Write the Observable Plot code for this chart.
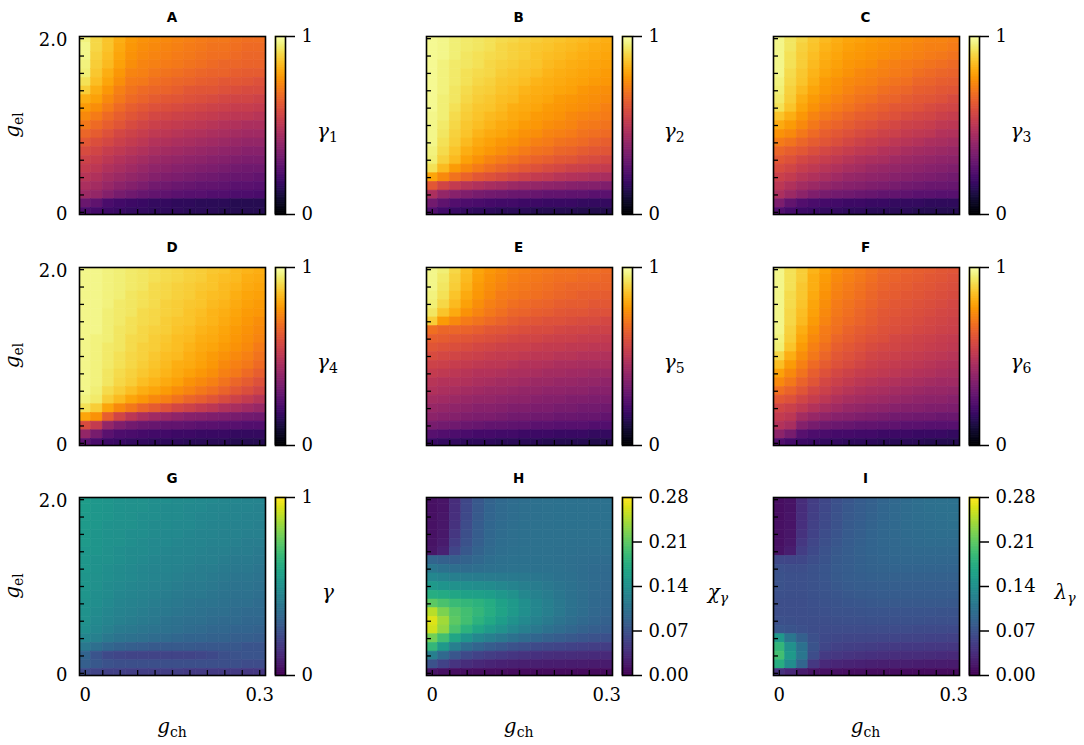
<!DOCTYPE html>
<html><head><meta charset="utf-8">
<script src="https://cdn.jsdelivr.net/npm/d3@7"></script>
<script src="https://cdn.jsdelivr.net/npm/@observablehq/plot@0.6"></script>
<style>
body{margin:0;background:#fff;}
#fig{position:relative;width:1084px;height:745px;overflow:hidden;background:#fff;}
#fig svg{position:absolute;}
#fig svg.plotpanel text{font-family:"DejaVu Serif",serif;}
</style></head><body><div id="fig"></div>
<script>
// grid coordinates
const gCh = [0,0.02,0.04,0.06,0.08,0.10,0.12,0.14,0.16,0.18,0.20,0.22,0.24,0.26,0.28,0.30];
const gEl = [2.0,1.9,1.8,1.7,1.6,1.5,1.4,1.3,1.2,1.1,1.0,0.9,0.8,0.7,0.6,0.5,0.4,0.3,0.2,0.1,0.0]; // rows top -> bottom
const xTickValues = [0,0.03,0.06,0.09,0.12,0.15,0.18,0.21,0.24,0.27,0.30];
const yTickValues = [0,0.2,0.4,0.6,0.8,1.0,1.2,1.4,1.6,1.8,2.0];
const cbTicksGamma = [0,1];
const cbTicksSus = [0,0.07,0.14,0.21,0.28];

// values in hundredths (gamma panels)
const gamma1 = [
[96,90,86,82,78,76,75,74,73,72,71,70,70,69,68,68],
[97,90,86,81,77,75,74,73,72,71,70,69,69,68,67,67],
[97,89,85,80,76,74,73,72,71,70,69,68,68,67,66,66],
[96,88,84,79,75,73,72,71,70,69,68,67,66,66,65,65],
[95,87,82,77,73,72,70,69,68,67,66,65,65,64,63,63],
[92,85,80,75,71,70,68,67,66,65,64,63,62,62,61,60],
[88,82,77,72,69,67,66,65,64,62,61,61,60,59,58,58],
[82,79,74,70,67,65,63,62,61,60,59,58,57,56,56,55],
[78,75,71,67,64,62,60,59,58,57,56,55,54,53,53,52],
[74,71,67,64,61,59,57,56,55,54,53,52,51,50,50,49],
[70,67,64,61,58,56,54,53,52,51,50,49,48,47,46,46],
[66,63,60,57,55,53,51,50,49,48,47,46,45,44,43,43],
[62,59,57,54,52,50,48,47,46,45,44,43,42,41,40,40],
[58,56,53,51,49,47,45,44,43,42,41,40,39,38,37,37],
[55,53,50,48,46,44,42,41,40,39,38,37,36,35,34,34],
[52,50,47,45,43,41,39,38,37,36,35,34,33,32,31,31],
[49,47,44,42,40,38,36,35,34,33,32,31,30,29,29,28],
[46,44,41,38,36,34,32,31,30,29,28,28,27,26,26,25],
[42,40,36,33,31,29,28,27,26,25,25,24,24,23,23,22],
[30,27,22,20,19,18,17,17,16,16,15,15,15,14,14,14],
[22,21,19,18,17,17,16,16,16,15,15,15,14,14,14,14]];

const gamma2 = [
[98,97,95,94,93,92,91,90,89,88,87,86,85,84,83,82],
[98,97,95,94,93,92,90,89,88,87,86,85,84,83,82,81],
[98,97,95,93,92,91,90,89,88,86,85,84,83,82,81,80],
[98,96,94,93,92,90,89,88,87,86,84,83,82,81,80,79],
[98,96,94,92,91,90,88,87,86,85,83,82,81,80,79,78],
[98,96,94,92,90,89,87,86,85,83,82,81,80,79,78,77],
[98,96,93,91,89,88,86,85,83,82,81,80,79,77,76,75],
[98,95,93,90,88,87,85,84,82,81,80,78,77,76,75,74],
[98,95,92,89,87,86,84,82,81,80,78,77,76,75,74,72],
[97,95,91,88,86,84,83,81,80,78,77,76,74,73,72,71],
[97,94,90,87,85,83,81,80,78,77,75,74,73,71,70,69],
[97,93,89,86,83,81,80,78,76,75,73,72,71,69,68,67],
[97,92,88,84,81,79,77,76,74,72,71,69,68,67,65,64],
[96,91,86,82,79,77,75,73,71,69,68,66,65,63,62,61],
[95,89,84,79,76,73,71,69,67,65,64,62,61,59,58,57],
[92,84,78,74,71,68,66,64,62,60,58,57,55,54,53,52],
[80,74,69,65,62,60,58,56,54,52,51,49,48,47,46,45],
[62,56,52,49,47,45,44,42,41,40,39,38,37,36,36,35],
[46,40,37,35,33,32,31,30,30,29,28,28,27,27,26,26],
[32,27,24,23,22,21,20,20,19,19,18,18,18,17,17,17],
[24,20,18,17,16,16,15,15,15,14,14,14,14,13,13,13]];

const gamma3 = [
[97,93,90,87,84,82,80,79,78,77,76,75,74,73,73,72],
[97,93,89,86,83,81,79,78,77,76,75,74,73,72,72,71],
[97,92,88,85,82,80,78,77,76,75,74,73,72,71,70,69],
[97,92,88,84,81,79,77,76,75,73,72,71,70,69,68,67],
[97,91,87,83,80,78,76,74,73,72,71,70,68,67,66,65],
[96,90,86,82,78,76,74,73,72,70,69,68,66,65,64,63],
[95,89,84,80,77,75,73,71,70,68,67,66,64,63,62,61],
[94,88,82,78,75,73,71,69,68,66,65,63,62,61,60,58],
[92,86,80,76,73,71,69,67,65,64,62,61,60,58,57,56],
[86,82,77,73,70,68,66,64,63,61,60,58,57,56,54,53],
[81,78,74,70,67,65,63,61,60,58,57,55,54,53,51,50],
[76,74,70,67,64,62,60,58,57,55,54,52,51,50,48,47],
[71,69,66,63,61,59,57,55,53,52,50,49,48,46,45,44],
[66,64,62,59,57,55,53,51,50,48,47,45,44,43,42,41],
[62,60,57,55,53,51,49,47,46,45,43,42,41,40,39,38],
[58,56,53,51,49,47,45,44,42,41,40,39,38,37,36,35],
[54,52,49,47,45,43,41,40,39,38,37,36,35,34,33,32],
[50,47,44,42,40,38,37,36,35,34,33,32,31,30,30,29],
[46,42,38,35,33,32,31,30,29,28,28,27,26,26,25,25],
[34,28,24,22,21,20,19,19,18,18,17,17,17,16,16,16],
[24,21,19,18,17,17,16,16,15,15,15,15,14,14,14,14]];

const gamma4 = [
[97,97,96,95,94,93,92,91,90,89,88,87,86,84,83,82],
[97,97,96,95,94,93,92,91,90,89,88,86,85,84,82,81],
[97,97,96,95,94,93,91,90,89,88,87,86,84,83,81,80],
[97,97,96,95,93,92,91,90,89,88,86,85,84,82,80,79],
[97,97,96,94,93,92,91,89,88,87,86,84,83,81,79,78],
[97,97,95,94,93,91,90,89,88,86,85,83,82,80,78,77],
[97,97,95,94,92,91,90,88,87,86,84,83,81,79,77,75],
[97,97,95,93,92,90,89,88,86,85,83,82,80,78,76,74],
[97,96,95,93,91,90,88,87,85,84,82,81,79,77,75,73],
[97,96,94,93,91,89,88,86,85,83,81,80,78,76,74,71],
[97,96,94,92,90,89,87,85,84,82,80,78,76,74,72,69],
[97,96,94,92,90,88,86,84,82,81,79,77,74,72,70,67],
[97,96,93,91,89,87,85,83,81,79,77,75,72,70,67,64],
[97,96,93,90,88,85,83,81,79,76,74,72,69,66,63,60],
[97,95,91,88,85,82,80,78,75,73,70,68,65,62,59,56],
[96,94,88,84,80,77,74,72,69,66,64,61,58,55,52,49],
[92,88,80,74,70,66,63,60,57,55,52,50,47,45,43,41],
[80,76,64,56,50,46,43,41,39,37,36,35,34,33,32,31],
[58,52,40,35,32,30,29,28,28,27,26,26,25,25,24,24],
[40,33,26,23,22,21,20,20,19,19,18,18,18,17,17,17],
[26,22,19,18,17,17,16,16,16,15,15,15,15,14,14,14]];

const gamma5 = [
[97,95,90,85,80,77,75,73,72,71,70,69,69,68,68,67],
[97,94,89,84,79,76,74,72,71,70,69,68,68,67,67,66],
[97,93,88,83,78,75,73,71,70,69,68,67,66,66,65,65],
[96,92,86,81,77,74,71,70,69,68,67,66,65,64,64,63],
[95,90,84,79,75,72,70,68,67,66,65,64,63,63,62,62],
[93,86,81,76,73,70,68,66,65,64,63,62,61,61,60,60],
[88,78,74,71,69,67,65,63,62,61,60,60,59,58,58,57],
[68,66,66,65,64,62,61,60,59,58,58,57,56,56,55,55],
[64,63,62,61,60,59,58,57,56,56,55,54,54,53,53,52],
[61,60,59,58,57,56,55,54,54,53,52,52,51,51,50,50],
[58,57,56,55,54,53,52,52,51,50,50,49,49,48,48,47],
[55,54,53,52,51,50,50,49,48,48,47,46,46,45,45,45],
[52,51,50,49,48,48,47,46,46,45,44,44,43,43,42,42],
[49,48,48,47,46,45,44,44,43,42,42,41,41,40,40,39],
[47,46,45,44,43,42,42,41,40,40,39,39,38,38,37,37],
[44,43,42,41,40,40,39,38,38,37,36,36,35,35,34,34],
[41,40,39,38,37,37,36,35,35,34,34,33,33,32,32,31],
[38,37,36,35,34,34,33,32,32,31,31,30,30,29,29,28],
[33,32,31,30,29,28,28,27,27,26,26,25,25,25,24,24],
[25,24,23,22,21,21,20,20,19,19,19,18,18,18,17,17],
[18,17,17,16,16,16,15,15,15,15,14,14,14,14,13,13]];

const gamma6 = [
[97,92,88,83,79,75,73,71,69,67,66,65,64,63,62,61],
[97,92,88,82,78,74,72,70,68,66,65,64,63,62,61,60],
[97,92,87,82,77,73,71,69,67,65,64,63,62,61,60,59],
[97,91,87,81,76,72,70,68,66,64,63,62,61,60,59,58],
[97,91,86,80,75,71,69,67,65,63,62,61,60,59,58,57],
[97,90,85,79,74,70,68,66,64,62,61,60,59,58,57,56],
[97,90,84,78,73,69,67,65,63,61,60,59,58,57,56,55],
[97,89,82,76,71,68,65,63,62,60,59,58,57,56,55,54],
[96,88,80,74,70,66,64,62,60,59,57,56,55,54,53,52],
[95,86,78,72,68,64,62,60,58,57,56,55,54,53,52,51],
[90,82,75,70,66,62,60,58,56,55,54,53,52,51,50,49],
[85,78,72,67,63,60,58,56,54,53,52,51,50,49,48,47],
[79,74,69,64,60,57,55,53,52,51,50,49,48,47,46,45],
[74,70,65,61,57,54,52,50,49,48,47,46,45,44,43,43],
[68,65,61,57,54,51,49,47,46,45,44,43,42,41,41,40],
[62,60,56,53,50,47,45,44,43,42,41,40,39,38,38,37],
[56,54,51,48,45,43,41,40,39,38,37,36,36,35,35,34],
[52,50,44,41,39,37,36,35,34,33,32,32,31,31,30,30],
[48,45,36,33,31,30,29,28,28,27,27,26,26,25,25,25],
[38,33,25,23,22,21,21,20,20,19,19,19,18,18,18,17],
[24,21,19,18,17,17,16,16,16,15,15,15,15,14,14,14]];

const gammaAll = [
[55,53,52,51,50,50,49,49,48,48,47,47,46,46,45,45],
[55,53,52,51,50,50,49,48,48,47,47,46,46,45,45,44],
[54,53,52,51,50,49,49,48,48,47,46,46,45,45,44,44],
[54,53,51,50,50,49,48,48,47,47,46,45,45,44,44,43],
[54,52,51,50,49,49,48,47,47,46,45,45,44,44,43,43],
[54,52,51,50,49,48,47,47,46,45,45,44,44,43,42,42],
[53,52,50,49,48,48,47,46,45,45,44,43,43,42,42,41],
[53,51,50,49,48,47,46,45,45,44,43,43,42,41,41,40],
[53,51,49,48,47,46,45,45,44,43,42,42,41,40,40,39],
[52,50,49,48,47,46,45,44,43,42,42,41,40,39,39,38],
[52,50,48,47,46,45,44,43,42,41,41,40,39,38,38,37],
[52,49,48,46,45,44,43,42,41,40,40,39,38,37,37,36],
[51,49,47,45,44,43,42,41,40,39,38,38,37,36,36,35],
[51,48,46,44,43,42,41,40,39,38,37,36,36,35,34,34],
[50,47,45,43,42,41,40,38,37,36,36,35,34,34,33,33],
[49,46,43,41,40,39,38,37,36,35,34,33,33,32,32,31],
[46,43,40,38,37,36,35,34,33,32,32,31,31,30,30,29],
[40,36,33,31,30,29,28,28,28,28,27,27,27,27,26,26],
[32,26,22,21,20,20,20,20,20,20,21,22,24,25,26,26],
[30,27,25,24,24,24,24,24,24,24,24,24,24,24,23,23],
[22,20,19,19,18,18,18,18,18,17,17,17,17,17,16,16]];

// values in thousandths (susceptibility panels)
const chiGamma = [
[12,15,36,60,76,88,95,98,100,102,103,104,104,105,105,105],
[12,15,37,61,77,89,96,99,101,102,103,104,104,105,105,105],
[12,16,38,62,78,90,96,99,101,102,103,104,104,104,104,104],
[13,17,40,64,80,91,97,100,102,103,103,104,104,104,104,104],
[13,18,44,67,82,92,98,101,102,103,103,103,103,103,103,103],
[14,20,50,70,84,94,99,101,102,103,103,103,102,102,102,102],
[16,26,58,76,88,96,100,102,103,103,103,102,102,101,101,101],
[90,86,84,88,94,99,102,104,104,104,103,102,101,100,99,98],
[110,105,100,98,100,102,104,106,106,105,104,103,101,99,97,96],
[130,125,120,118,116,115,114,113,112,110,108,105,102,99,97,95],
[150,145,140,138,136,134,130,125,120,116,112,108,104,100,97,94],
[175,170,165,160,158,155,148,140,130,122,116,110,105,100,96,93],
[210,200,190,185,180,172,160,150,138,128,120,112,106,100,95,92],
[250,225,205,195,185,175,162,150,138,128,120,112,105,99,94,90],
[265,240,210,195,180,168,155,143,132,122,114,107,100,95,90,86],
[260,235,200,180,165,152,140,130,120,112,104,98,92,87,83,80],
[220,195,165,145,130,120,112,104,97,91,86,81,77,74,71,68],
[185,150,120,100,90,82,76,71,67,63,60,57,55,53,51,50],
[120,95,75,62,55,50,46,43,41,39,37,36,35,34,33,32],
[70,55,42,35,31,28,26,25,24,23,22,22,21,21,20,20],
[15,12,10,10,9,9,9,8,8,8,8,8,8,7,7,7]];

const lambdaGamma = [
[10,14,35,50,60,68,75,80,85,90,94,97,100,102,103,104],
[10,14,36,51,61,69,76,81,86,91,95,98,100,102,103,104],
[10,15,37,52,62,70,77,82,87,91,95,98,100,101,102,103],
[11,15,38,54,63,71,78,83,88,92,95,98,99,100,101,102],
[11,16,40,55,65,73,79,84,89,92,95,97,98,99,100,100],
[12,18,44,58,67,75,80,85,89,92,94,96,97,98,98,98],
[14,22,50,62,70,77,82,86,89,91,93,94,95,95,95,95],
[60,58,60,66,72,78,82,85,88,90,91,92,92,92,92,92],
[68,66,66,70,74,79,82,85,87,88,89,89,89,89,89,89],
[70,68,68,71,74,78,81,83,85,86,86,86,86,86,86,86],
[70,68,68,70,73,76,79,81,82,83,83,83,83,83,83,83],
[68,67,67,69,72,74,76,78,79,80,80,80,80,80,80,80],
[66,66,66,68,70,72,74,75,76,77,77,77,77,77,77,76],
[66,66,66,67,68,70,71,72,73,73,73,73,73,73,72,72],
[68,67,66,66,66,67,68,68,69,69,69,69,69,68,68,68],
[75,72,68,65,64,64,64,64,64,64,64,64,63,63,63,62],
[150,110,85,68,62,60,59,58,58,57,57,56,56,55,55,54],
[185,140,105,72,58,54,52,51,50,49,48,47,46,45,45,44],
[195,150,110,65,48,44,42,40,39,38,37,36,35,34,33,32],
[175,135,90,45,32,29,27,26,25,24,23,23,22,21,21,20],
[40,30,20,14,12,11,10,10,9,9,9,8,8,8,8,8]];

const panels = [
 {id:"A", data:gamma1, div:100, scheme:"inferno", domain:[0,1], ticks:cbTicksGamma, sym:"γ", sub:"1", subItalic:false, row:0, col:0},
 {id:"B", data:gamma2, div:100, scheme:"inferno", domain:[0,1], ticks:cbTicksGamma, sym:"γ", sub:"2", subItalic:false, row:0, col:1},
 {id:"C", data:gamma3, div:100, scheme:"inferno", domain:[0,1], ticks:cbTicksGamma, sym:"γ", sub:"3", subItalic:false, row:0, col:2},
 {id:"D", data:gamma4, div:100, scheme:"inferno", domain:[0,1], ticks:cbTicksGamma, sym:"γ", sub:"4", subItalic:false, row:1, col:0},
 {id:"E", data:gamma5, div:100, scheme:"inferno", domain:[0,1], ticks:cbTicksGamma, sym:"γ", sub:"5", subItalic:false, row:1, col:1},
 {id:"F", data:gamma6, div:100, scheme:"inferno", domain:[0,1], ticks:cbTicksGamma, sym:"γ", sub:"6", subItalic:false, row:1, col:2},
 {id:"G", data:gammaAll, div:100, scheme:"viridis", domain:[0,1], ticks:cbTicksGamma, sym:"γ", sub:"", subItalic:false, row:2, col:0},
 {id:"H", data:chiGamma, div:1000, scheme:"viridis", domain:[0,0.28], ticks:cbTicksSus, sym:"χ", sub:"γ", subItalic:true, row:2, col:1},
 {id:"I", data:lambdaGamma, div:1000, scheme:"viridis", domain:[0,0.28], ticks:cbTicksSus, sym:"λ", sub:"γ", subItalic:true, row:2, col:2}
];

const fig = document.getElementById("fig");
const colX = [79, 425.7, 772.5];
const rowY = [36, 266.5, 497];
const W = 186, H = 178, CBW = 10, CBOFF = 196;
const SERIF = "DejaVu Serif";
const FS = 18;
const baseStyle = {fontFamily:SERIF, fontSize:FS+"px", background:"transparent", color:"#000", overflow:"visible"};

function heat(p){
  const ML = 60, MR = 0, MT = 0, MB = 50;
  const cells = [];
  p.data.forEach((row,i) => row.forEach((v,j) => cells.push({x:gCh[j], y:gEl[i], v:v/p.div})));
  const marks = [
    Plot.rect(cells, {x1:d=>d.x-0.01, x2:d=>d.x+0.01, y1:d=>d.y-0.05, y2:d=>d.y+0.05, fill:"v", stroke:"v", strokeWidth:0.6, clip:true}),
    Plot.tickY(yTickValues, {y:d=>d, insetRight:W-5, stroke:"#000", strokeWidth:1.3}),
    Plot.tickX(xTickValues, {x:d=>d, insetTop:H-5, stroke:"#000", strokeWidth:1.3}),
    Plot.frame({stroke:"#000", strokeWidth:1.6})
  ];
  if (p.col === 0) marks.push(Plot.axisY([0,2], {anchor:"left", tickSize:0, tickPadding:12, dy:2, tickFormat:d => d===0 ? "0" : "2.0", label:null, fontSize:FS, fontFamily:SERIF}));
  if (p.row === 2) marks.push(Plot.axisX([0,0.3], {anchor:"bottom", tickSize:0, tickPadding:13, tickFormat:d => d===0 ? "0" : "0.3", label:null, fontSize:FS, fontFamily:SERIF}));
  const svg = Plot.plot({
    width:W+ML+MR, height:H+MT+MB, marginLeft:ML, marginRight:MR, marginTop:MT, marginBottom:MB,
    x:{domain:[-0.01,0.31], axis:null}, y:{domain:[-0.025,2.025], axis:null},
    color:{type:"linear", scheme:p.scheme, domain:p.domain},
    style:baseStyle, marks
  });
  svg.classList.add("plotpanel");
  svg.style.left = (colX[p.col]-ML)+"px";
  svg.style.top = (rowY[p.row]-MT)+"px";
  fig.appendChild(svg);
}

function cbar(p){
  const MR = 80;
  const mx = p.domain[1];
  const bands = d3.range(256).map(i => ({lo:i/256*mx, hi:(i+1)/256*mx, mid:(i+0.5)/256*mx}));
  const fmt = p.ticks.length > 2 ? d3.format(".2f") : (d => String(d));
  const svg = Plot.plot({
    width:CBW+MR, height:H, marginLeft:0, marginRight:MR, marginTop:0, marginBottom:0,
    x:{domain:[0,1], axis:null}, y:{domain:p.domain, axis:null},
    color:{type:"linear", scheme:p.scheme, domain:p.domain},
    style:baseStyle,
    marks:[
      Plot.rect(bands, {x1:0, x2:1, y1:"lo", y2:"hi", fill:"mid", stroke:"mid", strokeWidth:0.6}),
      Plot.frame({stroke:"#000", strokeWidth:1.6}),
      Plot.axisY(p.ticks, {anchor:"right", tickSize:9, tickPadding:7, tickFormat:fmt, label:null, fontSize:FS, fontFamily:SERIF, strokeWidth:1.5})
    ]
  });
  svg.classList.add("plotpanel");
  svg.style.left = (colX[p.col]+CBOFF)+"px";
  svg.style.top = rowY[p.row]+"px";
  fig.appendChild(svg);
}

panels.forEach(p => { heat(p); cbar(p); });

// overlay labels
const ov = d3.select(fig).append("svg").attr("width",1084).attr("height",745)
  .style("left","0px").style("top","0px").style("pointer-events","none");
panels.forEach(p => {
  const cx = colX[p.col] + W/2;
  ov.append("text").attr("x",cx).attr("y",rowY[p.row]-14.3).attr("text-anchor","middle")
    .style("font-family","'DejaVu Sans'").style("font-weight","bold").style("font-size","13.5px").text(p.id);
  // colorbar label
  const lx = colX[p.col] + CBOFF + (p.ticks.length > 2 ? 86 : (p.sub ? 42 : 47));
  const t = ov.append("text").attr("x",lx).attr("y",rowY[p.row]+102)
    .style("font-family",SERIF).style("font-size","20px");
  t.append("tspan").style("font-style","italic").text(p.sym);
  if (p.sub) t.append("tspan").attr("dy",4).style("font-size","14px").style("font-style",p.subItalic?"italic":"normal").text(p.sub);
  // y label
  if (p.col === 0) {
    const cy = rowY[p.row] + H/2;
    const yl = ov.append("text").attr("transform",`translate(19,${cy}) rotate(-90)`).attr("text-anchor","middle")
      .style("font-family",SERIF).style("font-size","20px");
    yl.append("tspan").style("font-style","italic").text("g");
    yl.append("tspan").attr("dy",4).style("font-size","14px").text("el");
  }
  if (p.row === 2) {
    const xl = ov.append("text").attr("x",cx).attr("y",733).attr("text-anchor","middle")
      .style("font-family",SERIF).style("font-size","20px");
    xl.append("tspan").style("font-style","italic").text("g");
    xl.append("tspan").attr("dy",4).style("font-size","14px").text("ch");
  }
});
</script></body></html>
